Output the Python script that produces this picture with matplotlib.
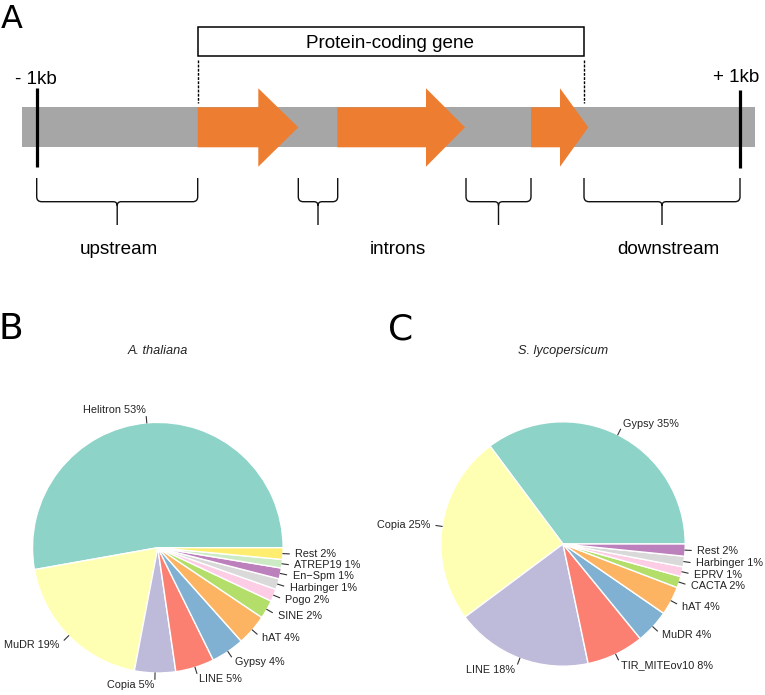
import matplotlib
matplotlib.use('Agg')
import matplotlib.pyplot as plt
import numpy as np
from matplotlib.patches import Rectangle, Polygon, PathPatch
from matplotlib.path import Path

plt.rcParams['font.family'] = ['Liberation Sans', 'DejaVu Sans']

## Data
# A. thaliana TE classes (panel B)
ath_names = ['Helitron', 'MuDR', 'Copia', 'LINE', 'Gypsy', 'hAT', 'SINE', 'Pogo',
             'Harbinger', 'En\u2212Spm', 'ATREP19', 'Rest']
ath_values = [52.8, 19.2, 5.3, 5.0, 4.3, 4.0, 2.4, 1.6, 1.4, 1.4, 1.1, 1.5]
ath_pct = [53, 19, 5, 5, 4, 4, 2, 2, 1, 1, 1, 2]

# S. lycopersicum TE classes (panel C)
sly_names = ['Gypsy', 'Copia', 'LINE', 'TIR_MITEov10', 'MuDR', 'hAT', 'CACTA', 'EPRV',
             'Harbinger', 'Rest']
sly_values = [35.2, 25.0, 18.1, 7.6, 4.5, 3.8, 1.5, 1.3, 1.4, 1.6]
sly_pct = [35, 25, 18, 8, 4, 4, 2, 1, 1, 2]

set3 = ['#8DD3C7', '#FFFFB3', '#BEBADA', '#FB8072', '#80B1D3', '#FDB462',
        '#B3DE69', '#FCCDE5', '#D9D9D9', '#BC80BD', '#CCEBC5', '#FFED6F']

# gene schematic (panel A): exon (start, head start, tip)
exons = [(197.7, 258.3, 298.3), (337.3, 426.0, 465.0), (531.0, 560.0, 588.3)]
regions = [('upstream', 36.7, 197.7), ('introns', 298.3, 337.7),
           ('introns', 466.0, 531.0), ('downstream', 584.0, 740.0)]

GRAY = '#A6A6A6'
ORANGE = '#ED7D31'

fig = plt.figure(figsize=(7.65, 6.95), dpi=100)
ax = fig.add_axes([0, 0, 1, 1])
ax.set_xlim(0, 765)
ax.set_ylim(695, 0)
ax.axis('off')

## Panel A
ax.text(1, 28.3, 'A', fontsize=23, family='DejaVu Sans', va='baseline', ha='left')

bar_top, bar_bot = 107.3, 147.3
ax.add_patch(Rectangle((21.7, bar_top), 755 - 21.7, bar_bot - bar_top, color=GRAY, lw=0, zorder=1))
for x0, xh, tip in exons:
    verts = [(x0, bar_top), (xh, bar_top), (xh, 88.3), (tip, 127.3),
             (xh, 166.7), (xh, bar_bot), (x0, bar_bot)]
    ax.add_patch(Polygon(verts, closed=True, color=ORANGE, lw=0, zorder=2))

# -1kb / +1kb markers
ax.plot([36.7, 36.7], [88, 167], color='black', lw=2.3, solid_capstyle='butt', zorder=3)
ax.plot([740, 740], [90, 168], color='black', lw=2.3, solid_capstyle='butt', zorder=3)
ax.text(36, 84, '- 1kb', fontsize=13.6, ha='center', va='baseline')
ax.text(736, 82, '+ 1kb', fontsize=13.6, ha='center', va='baseline')

# gene box
ax.add_patch(Rectangle((197.7, 26.7), 584 - 197.7, 56 - 26.7, facecolor='white',
                       edgecolor='black', lw=1.1, zorder=3))
ax.text(390.5, 48.5, 'Protein-coding gene', fontsize=13.6, ha='center', va='baseline')
for xd in (197.7, 584):
    ax.plot([xd, xd], [60, 103], color='black', lw=1.0, ls=(0, (2, 1)), zorder=3)


def brace(x0, x1, ytop=178, ymid=201.7, ybot=225, rc=5, c=4):
    xc = (x0 + x1) / 2
    verts = [(x0, ytop), (x0, ymid - rc), (x0, ymid), (x0 + rc, ymid),
             (xc - c, ymid), (xc, ymid), (xc, ymid + c), (xc, ybot),
             (x1, ytop), (x1, ymid - rc), (x1, ymid), (x1 - rc, ymid),
             (xc + c, ymid), (xc, ymid), (xc, ymid + c)]
    codes = [Path.MOVETO, Path.LINETO, Path.CURVE3, Path.CURVE3,
             Path.LINETO, Path.CURVE3, Path.CURVE3, Path.LINETO,
             Path.MOVETO, Path.LINETO, Path.CURVE3, Path.CURVE3,
             Path.LINETO, Path.CURVE3, Path.CURVE3]
    ax.add_patch(PathPatch(Path(verts, codes), facecolor='none', edgecolor='#111111', lw=1.0))


for name, x0, x1 in regions:
    brace(x0, x1)
ax.text(119, 254, 'upstream', fontsize=13.6, ha='center', va='baseline')
ax.text(398, 254, 'introns', fontsize=13.6, ha='center', va='baseline')
ax.text(668.5, 254, 'downstream', fontsize=13.6, ha='center', va='baseline')


## Panels B and C
def draw_pie(names, values, pct, center, r, title, letter, letter_x):
    wedges, _ = ax.pie(values, colors=set3[:len(values)], center=center, radius=r,
                       startangle=0, counterclock=False, frame=True,
                       wedgeprops=dict(edgecolor='white', lw=1.0))
    for w, name, p in zip(wedges, names, pct):
        mid = np.deg2rad((w.theta1 + w.theta2) / 2)
        cx, cy = np.cos(mid), np.sin(mid)
        ax.plot([center[0] + r * cx, center[0] + 1.05 * r * cx],
                [center[1] + r * cy, center[1] + 1.05 * r * cy], color='#333333', lw=0.8)
        ax.text(center[0] + 1.1 * r * cx, center[1] + 1.1 * r * cy, f'{name} {p}%',
                fontsize=7.8, color='#222222', ha='left' if cx > 0 else 'right', va='center')
    ax.text(center[0], 351, title, fontsize=9.2, style='italic', color='#222222',
            ha='center', va='center')
    ax.text(letter_x, 339, letter, fontsize=26, family='DejaVu Sans', ha='left', va='baseline')


draw_pie(ath_names, ath_values, ath_pct, (157.8, 547.7), 125.3, 'A. thaliana', 'B', -1)
draw_pie(sly_names, sly_values, sly_pct, (563, 544), 122.2, 'S. lycopersicum', 'C', 388)

ax.set_xlim(0, 765)
ax.set_ylim(695, 0)
ax.set_aspect('auto')
ax.axis('off')

fig.savefig('out.png', dpi=100)
